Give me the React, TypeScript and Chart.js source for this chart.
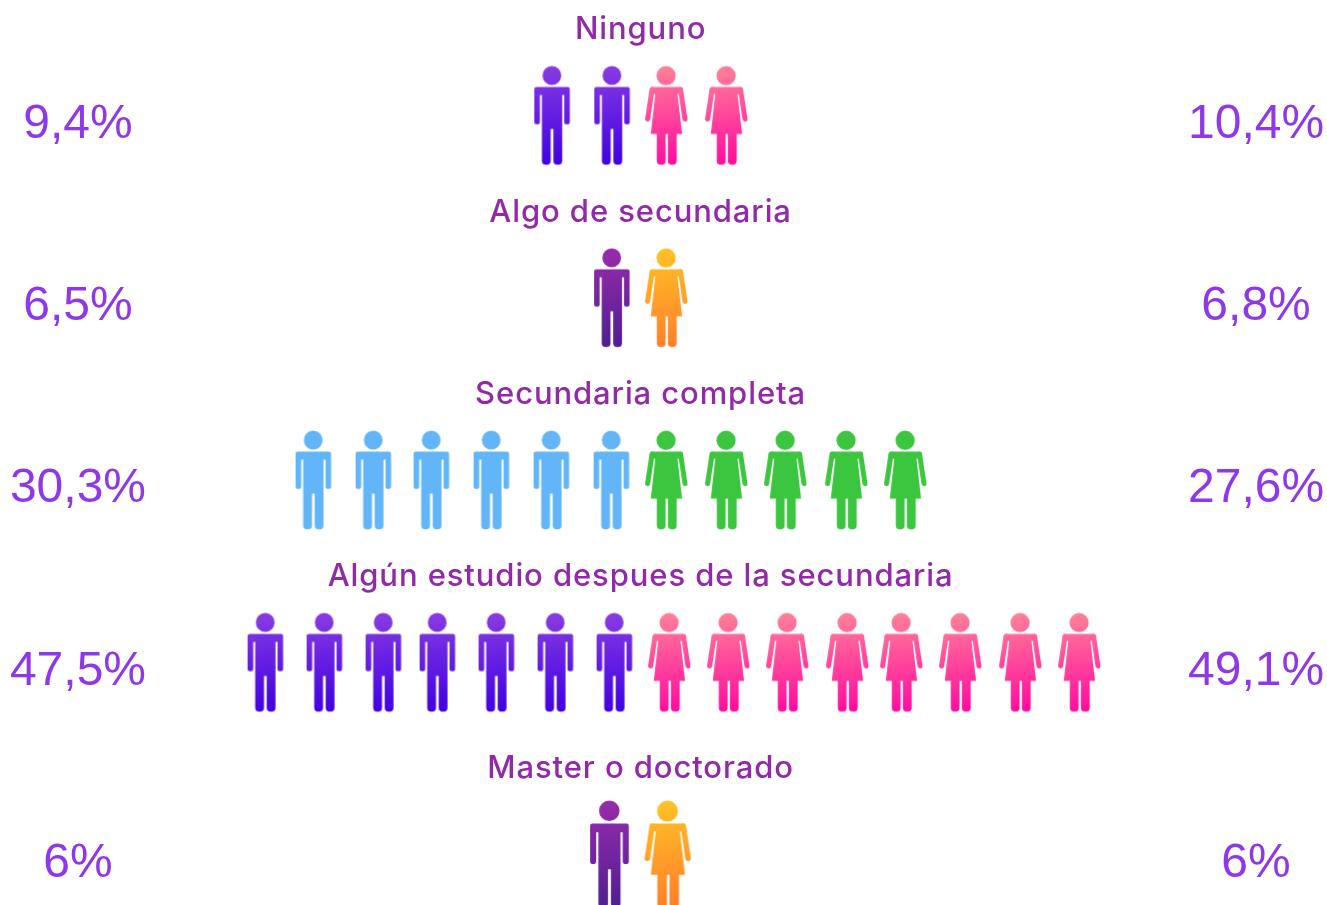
import React, { useEffect, useRef } from "react";
import { Chart, registerables } from "chart.js";

Chart.register(...registerables);

const categories = ["Ninguno", "Algo de secundaria", "Secundaria completa", "Algún estudio despues de la secundaria", "Master o doctorado"];
const leftLabels = ["9,4%", "6,5%", "30,3%", "47,5%", "6%"];
const rightLabels = ["10,4%", "6,8%", "27,6%", "49,1%", "6%"];
const rowValues = [0, 1, 2, 3, 4.054];
const menX = [
  [-88.3, -28.3],
  [-28.5],
  [-327, -267, -209, -149, -89, -29],
  [-375, -316, -257, -203, -144, -85, -26],
  [-31],
];
const womenX = [
  [26, 86],
  [26],
  [26, 86, 145, 206, 265],
  [29, 88, 147, 207, 261, 320, 380, 439],
  [27.5],
];
const menColors = [
  ["#8A3CE2", "#3F00E4"],
  ["#9A2CAC", "#4E1E92"],
  ["#62B5F9", "#62B5F9"],
  ["#8A3CE2", "#3F00E4"],
  ["#9A2CAC", "#4E1E92"],
];
const womenColors = [
  ["#FF8298", "#FF0AA0"],
  ["#FFC326", "#FF7E2C"],
  ["#3CC53E", "#3CC53E"],
  ["#FF8298", "#FF0AA0"],
  ["#FFC326", "#FF7E2C"],
];
const rowScale = [1, 1, 1, 1, 1.09];

function makeIcon(kind: "man" | "woman", colors: string[], s: number) {
  const pad = 2;
  const w0 = kind === "man" ? 35.5 : 42.4;
  const h0 = 98.3;
  const c = document.createElement("canvas");
  c.width = Math.ceil(w0 * s) + pad * 2;
  c.height = Math.ceil(h0 * s) + pad * 2;
  const ctx = c.getContext("2d") as CanvasRenderingContext2D;
  ctx.filter = "blur(0.45px)";
  ctx.translate(pad, pad);
  ctx.scale(s, s);
  const g = ctx.createLinearGradient(w0 * 0.3, 0, w0 * 0.7, h0);
  g.addColorStop(0, colors[0]);
  g.addColorStop(1, colors[1]);
  ctx.fillStyle = g;
  ctx.strokeStyle = g;
  ctx.beginPath();
  if (kind === "man") {
    ctx.arc(17.6, 9, 9.4, 0, Math.PI * 2);
    ctx.closePath();
    ctx.roundRect(0, 20.6, 35.5, 8, 2);
    ctx.roundRect(0, 20.6, 5.6, 37.2, 2.6);
    ctx.roundRect(29.9, 20.6, 5.6, 37.2, 2.6);
    ctx.rect(7.6, 20.6, 20.3, 42);
    ctx.roundRect(7.6, 55, 8.8, 43.3, 4);
    ctx.roundRect(19.1, 55, 8.8, 43.3, 4);
    ctx.fill();
  } else {
    ctx.arc(21, 9.2, 9.6, 0, Math.PI * 2);
    ctx.closePath();
    ctx.roundRect(4.6, 20.6, 33.2, 7, 2.5);
    ctx.moveTo(10.6, 24);
    ctx.lineTo(32, 24);
    ctx.lineTo(37, 67.6);
    ctx.lineTo(5.7, 67.6);
    ctx.closePath();
    ctx.roundRect(11.7, 60, 8.8, 38.3, 4);
    ctx.roundRect(22.8, 60, 8.8, 38.3, 4);
    ctx.fill();
    ctx.lineCap = "round";
    ctx.lineWidth = 5;
    ctx.beginPath();
    ctx.moveTo(7, 23);
    ctx.lineTo(2.5, 52.5);
    ctx.moveTo(35.5, 23);
    ctx.lineTo(39.9, 52.5);
    ctx.stroke();
  }
  return c;
}

const categoryPlugin = {
  id: "categoryLabels",
  afterDatasetsDraw(chart: any) {
    const { ctx, scales } = chart;
    ctx.save();
    ctx.font = '500 31px "Inter"';
    ctx.letterSpacing = "0.9px";
    ctx.fillStyle = "#9129A9";
    ctx.textAlign = "center";
    ctx.textBaseline = "middle";
    categories.forEach((name, i) => {
      ctx.fillText(name, scales.x.getPixelForValue(0), scales.y.getPixelForValue(rowValues[i]) - 86);
    });
    ctx.restore();
  },
};

export default function App() {
  const ref = useRef<HTMLCanvasElement>(null);
  useEffect(() => {
    const canvas = ref.current as HTMLCanvasElement;
    const datasets: any[] = [];
    categories.forEach((name, i) => {
      datasets.push({
        label: name + " H",
        data: menX[i].map((x) => ({ x, y: rowValues[i] })),
        pointStyle: makeIcon("man", menColors[i], rowScale[i]),
        pointRadius: 5,
        showLine: false,
        clip: false,
      });
      datasets.push({
        label: name + " M",
        data: womenX[i].map((x) => ({ x, y: rowValues[i] })),
        pointStyle: makeIcon("woman", womenColors[i], rowScale[i]),
        pointRadius: 5,
        showLine: false,
        clip: false,
      });
    });
    const percentTicks = (labels: string[]) => ({
      font: { family: '"Liberation Sans"', size: 48, weight: "400" },
      color: "#8E38EA",
      padding: 0,
      crossAlign: "center",
      labelOffset: 8.5,
      autoSkip: false,
      callback: (v: number) => {
        const i = rowValues.indexOf(v);
        return i >= 0 ? labels[i] : "";
      },
    });
    const setTicks = (axis: any) => {
      axis.ticks = rowValues.map((value) => ({ value }));
    };
    const fitAxis = (width: number) => (a: any) => {
      a.width = width;
      a.paddingTop = 0;
      a.paddingBottom = 0;
    };
    const chart = new Chart(canvas, {
      type: "scatter",
      data: { datasets },
      plugins: [categoryPlugin],
      options: {
        responsive: false,
        animation: false,
        layout: { padding: 0, autoPadding: false },
        plugins: { legend: { display: false }, tooltip: { enabled: false } },
        scales: {
          x: { type: "linear", display: false, min: -486.6, max: 539.4 },
          y: {
            type: "linear",
            position: "left",
            reverse: true,
            min: -0.636,
            max: 4.328,
            grid: { display: false },
            border: { display: false },
            ticks: percentTicks(leftLabels),
            afterBuildTicks: setTicks,
            afterFit: fitAxis(154),
          },
          y2: {
            type: "linear",
            position: "right",
            reverse: true,
            min: -0.636,
            max: 4.328,
            grid: { display: false },
            border: { display: false },
            ticks: percentTicks(rightLabels),
            afterBuildTicks: setTicks,
            afterFit: fitAxis(147),
          },
        },
      },
    } as any);
    return () => chart.destroy();
  }, []);
  return (
    <div style={{ position: "fixed", left: 0, top: 0, width: 1327, height: 905, background: "#fff" }}>
      <canvas ref={ref} width={1327} height={905} style={{ display: "block" }} />
    </div>
  );
}
